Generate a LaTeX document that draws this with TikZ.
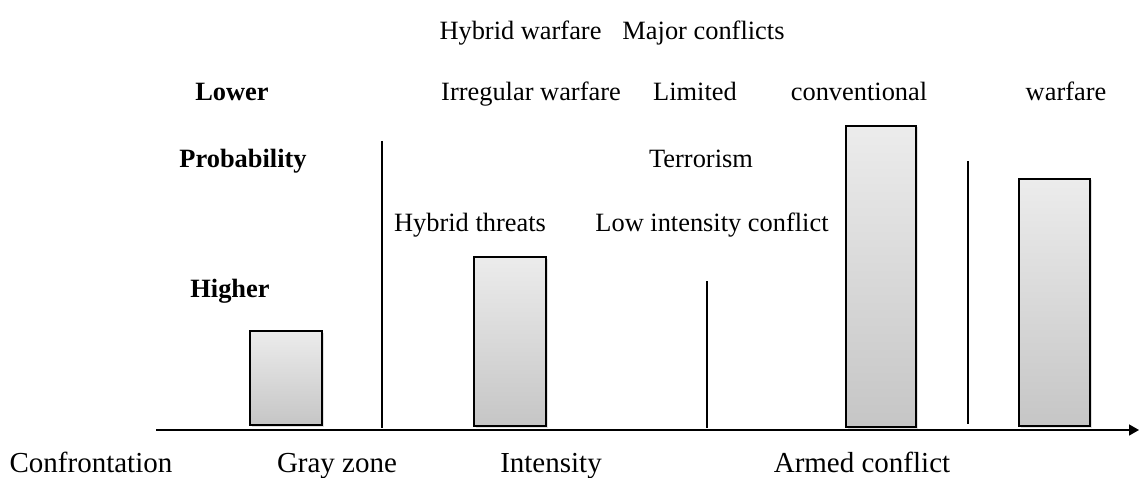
\documentclass[tikz,border=0pt]{standalone}
\usepackage{fontspec}
\setmainfont{Liberation Serif}
\usetikzlibrary{arrows.meta,shadows}
\begin{document}
\begin{tikzpicture}[x=1pt,y=-1pt,
  lbl/.style={inner sep=0pt,anchor=base,font=\fontsize{26.4}{30}\selectfont},
  blbl/.style={lbl,font=\fontsize{26.4}{30}\selectfont\bfseries},
  axlbl/.style={inner sep=0pt,anchor=base,font=\fontsize{29}{33}\selectfont},
  bar/.style={draw=black,line width=2pt,top color=gray!15,bottom color=gray!45,
    drop shadow={shadow xshift=1.5pt,shadow yshift=-1.5pt,opacity=0.25}},
  vline/.style={line width=1.5pt}]
\useasboundingbox (0,0) rectangle (1139,478);
% bars
\draw[bar] (250,331) rectangle (322,425);
\draw[bar] (474,257) rectangle (546,426);
\draw[bar] (846,126) rectangle (916,427);
\draw[bar] (1019,179) rectangle (1090,426);
% separators
\coordinate (s1a) at (382,141); \coordinate (s1b) at (382,428);
\coordinate (s2a) at (707,281); \coordinate (s2b) at (707,428);
\coordinate (s3a) at (968,161); \coordinate (s3b) at (968,424);
\draw[vline] (s1a) -- (s1b);
\draw[vline] (s2a) -- (s2b);
\draw[vline] (s3a) -- (s3b);
% axis
\coordinate (ax0) at (156,430); \coordinate (ax1) at (1139,430);
\draw[line width=1.5pt,-{Triangle[length=10pt,width=11pt]}] (ax0) -- (ax1);
% texts
\node[lbl] (t1) at (612,40) {Hybrid warfare\hspace{21pt}Major conflicts};
\node[blbl] (lower) at (232,101) {Lower};
\node[lbl] (irr) at (531,101) {Irregular warfare};
\node[lbl] (lim) at (695,101) {Limited};
\node[lbl] (conv) at (859,101) {conventional};
\node[lbl] (war) at (1066,101) {warfare};
\node[blbl] (prob) at (243,168) {Probability};
\node[lbl] (terr) at (701,168) {Terrorism};
\node[lbl] (hyb) at (470,232) {Hybrid threats};
\node[lbl] (lic) at (712,232) {Low intensity conflict};
\node[blbl] (high) at (230,297) {Higher};
\node[axlbl] (conf) at (91,472) {Confrontation};
\node[axlbl] (gray) at (337,472) {Gray zone};
\node[axlbl] (int) at (551,472) {Intensity};
\node[axlbl] (arm) at (862,472) {Armed conflict};
\end{tikzpicture}
\end{document}
